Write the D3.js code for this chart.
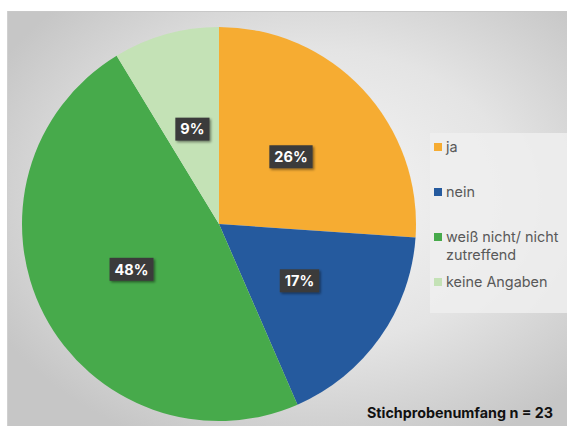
<!DOCTYPE html>
<html><head><meta charset="utf-8">
<script src="https://cdn.jsdelivr.net/npm/d3@7"></script>
<style>html,body{margin:0;padding:0;background:#fff;}svg{display:block;}</style>
</head><body>
<script>
const categories = ["ja", "nein", "weiß nicht/ nicht zutreffend", "keine Angaben"];
const counts = [6, 4, 11, 2];
const percentLabels = ["26%", "17%", "48%", "9%"];
const colors = ["#F6AC32", "#255A9E", "#47AA4B", "#C4E2B6"];
const legendLines = [["ja"], ["nein"], ["weiß nicht/ nicht", "zutreffend"], ["keine Angaben"]];
const footnote = "Stichprobenumfang n = 23";

const W = 567, H = 426;
const svg = d3.select("body").append("svg").attr("width", W).attr("height", H);
const defs = svg.append("defs");
const rg = defs.append("radialGradient").attr("id", "bg")
  .attr("cx", "55%").attr("cy", "45%").attr("r", "65%");
rg.append("stop").attr("offset", "0%").attr("stop-color", "#f6f6f6");
rg.append("stop").attr("offset", "55%").attr("stop-color", "#e4e4e4");
rg.append("stop").attr("offset", "100%").attr("stop-color", "#c6c6c6");
const sh = defs.append("filter").attr("id", "shadow").attr("x", "-30%").attr("y", "-30%").attr("width", "160%").attr("height", "160%");
sh.append("feDropShadow").attr("dx", 1.5).attr("dy", 1.5).attr("stdDeviation", 1.2).attr("flood-color", "#000").attr("flood-opacity", 0.45);

svg.append("rect").attr("x", 7).attr("y", 11).attr("width", W - 7).attr("height", H - 11)
  .attr("fill", "url(#bg)");
svg.append("line").attr("x1", 7).attr("x2", W).attr("y1", 11.5).attr("y2", 11.5).attr("stroke", "#c8c8c8");
svg.append("line").attr("x1", 7.5).attr("x2", 7.5).attr("y1", 11).attr("y2", H).attr("stroke", "#d0d0d0");

const cx = 219, cy = 224, R = 197;
const pie = d3.pie().sort(null).value(d => d)(counts);
const arc = d3.arc().innerRadius(0).outerRadius(R);
const g = svg.append("g").attr("transform", `translate(${cx},${cy})`);
g.selectAll("path").data(pie).join("path")
  .attr("d", arc).attr("fill", (d, i) => colors[i]);

const labelArc = d3.arc().innerRadius(R * 0.5).outerRadius(R * 0.5);
const lbl = g.selectAll("g.lbl").data(pie).join("g").attr("class", "lbl")
  .attr("transform", d => `translate(${labelArc.centroid(d)})`);
lbl.append("rect").attr("y", -11.5).attr("height", 23)
  .attr("fill", "#3b3b3b").attr("filter", "url(#shadow)");
lbl.append("text").text((d, i) => percentLabels[i])
  .attr("text-anchor", "middle").attr("dy", "0.36em")
  .attr("font-family", "Inter, 'DejaVu Sans', sans-serif").attr("font-weight", "bold")
  .attr("font-size", 14.5).attr("fill", "#fff");
lbl.each(function () {
  const t = d3.select(this).select("text").node().getBBox();
  d3.select(this).select("rect").attr("x", -t.width / 2 - 5).attr("width", t.width + 10);
});

// legend
svg.append("rect").attr("x", 430).attr("y", 133).attr("width", 137).attr("height", 180)
  .attr("fill", "#efefef").attr("fill-opacity", 0.85);
const legY = [147, 192, 237, 282];
const lg = svg.selectAll("g.leg").data(categories).join("g").attr("class", "leg")
  .attr("transform", (d, i) => `translate(434,${legY[i]})`);
lg.append("rect").attr("x", 0).attr("y", -4).attr("width", 8).attr("height", 8)
  .attr("fill", (d, i) => colors[i]);
lg.each(function (d, i) {
  const t = d3.select(this).append("text").attr("x", 12).attr("y", 0)
    .attr("font-family", "Inter, 'DejaVu Sans', sans-serif").attr("font-size", 14.4)
    .attr("fill", "#595959");
  legendLines[i].forEach((line, j) => {
    t.append("tspan").attr("x", 12).attr("dy", j === 0 ? "0.36em" : 18).text(line);
  });
});

svg.append("text").attr("x", 553).attr("y", 418).attr("text-anchor", "end")
  .attr("font-family", "Inter, 'DejaVu Sans', sans-serif").attr("font-weight", "bold")
  .attr("font-size", 14.3).attr("fill", "#111").text(footnote);
</script>
</body></html>
